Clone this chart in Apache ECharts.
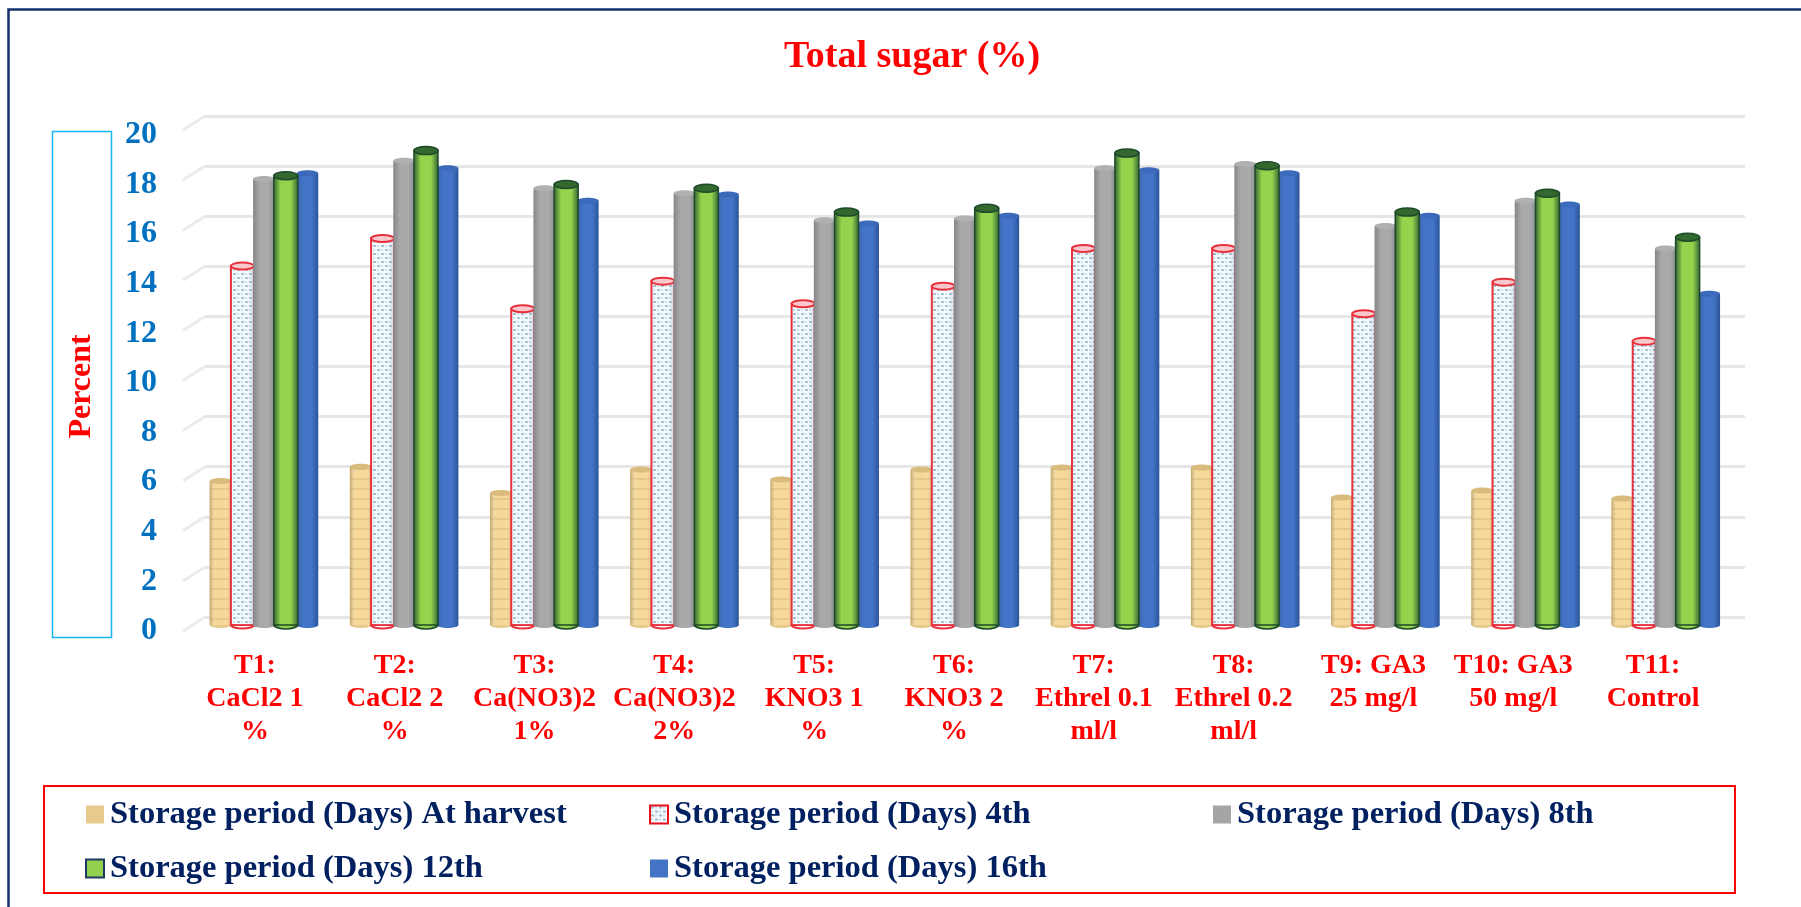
<!DOCTYPE html>
<html>
<head>
<meta charset="utf-8">
<style>html,body{margin:0;padding:0;background:#fff}#c{width:1801px;height:907px}</style>
<script src="https://cdn.jsdelivr.net/npm/echarts@6/dist/echarts.min.js"></script>
</head>
<body>
<div id="c"></div>
<script>
const categories = ["T1:\nCaCl2 1\n%","T2:\nCaCl2 2\n%","T3:\nCa(NO3)2\n1%","T4:\nCa(NO3)2\n2%","T5:\nKNO3 1\n%","T6:\nKNO3 2\n%","T7:\nEthrel 0.1\nml/l","T8:\nEthrel 0.2\nml/l","T9: GA3\n25 mg/l","T10: GA3\n50 mg/l","T11:\nControl"];
const atHarvest = [5.74,6.3,5.26,6.2,5.8,6.2,6.27,6.27,5.08,5.36,5.04];
const day4 = [14.3,15.4,12.6,13.7,12.8,13.5,15.0,15.0,12.4,13.66,11.3];
const day8 = [17.77,18.5,17.4,17.2,16.13,16.2,18.2,18.37,15.9,16.9,15.0];
const day12 = [17.9,18.9,17.55,17.4,16.45,16.6,18.8,18.3,16.45,17.2,15.45];
const day16 = [18.0,18.2,16.9,17.15,16.0,16.3,18.12,18.0,16.3,16.75,13.2];
const yTicks = [0,2,4,6,8,10,12,14,16,18,20];
const names = ["Storage period (Days) At harvest","Storage period (Days) 4th","Storage period (Days) 8th","Storage period (Days) 12th","Storage period (Days) 16th"];

const FONT = '"Liberation Serif", serif';
const G = echarts.graphic;

function mkPattern(w, h, draw){
  const cv = document.createElement('canvas'); cv.width = w; cv.height = h;
  draw(cv.getContext('2d'));
  return {image: cv, repeat: 'repeat'};
}
const tanPat = mkPattern(8, 10, c => {
  c.fillStyle = '#f6d898'; c.fillRect(0,0,8,10);
  c.fillStyle = '#e8c888'; c.fillRect(0,8,8,2);
});
const dotPat = mkPattern(8, 8, c => {
  c.fillStyle = '#f4fafd'; c.fillRect(0,0,8,8);
  c.fillStyle = '#9fbdd2';
  c.fillRect(1,1,3,2); c.fillRect(5,5,3,2);
  c.fillStyle = '#c5deea';
  c.fillRect(5,1,2,2); c.fillRect(1,5,2,2);
});
function hGrad(a,b,c){ return new G.LinearGradient(0,0,1,0,[{offset:0,color:a},{offset:.3,color:b},{offset:.7,color:b},{offset:1,color:c}]); }

const looks = {
  harvest:{slot:0,w:22,pattern:tanPat,shade:hGrad('rgba(150,120,60,.55)','rgba(255,255,255,0)','rgba(190,120,50,.45)'),top:'#d9bb7e',bottom:'#e6c98c',stroke:null,sw:0,ry:3},
  d4:{slot:1,w:23,pattern:dotPat,shade:hGrad('rgba(255,255,255,0)','rgba(255,255,255,.1)','rgba(110,120,140,.3)'),top:'#f8c8cc',bottom:'#ffffff',stroke:'#e8303c',sw:2,ry:3.5},
  d8:{slot:2,w:22,pattern:null,fill:hGrad('#86868a','#a9a9ab','#8b8b8d'),top:'#b0b0b0',stroke:null,sw:0,ry:3},
  d12:{slot:3,w:24,pattern:null,fill:hGrad('#2d5a30','#94d44c','#2f6033'),top:'#33692f',stroke:'#1d4a2a',sw:1.5,ry:4},
  d16:{slot:4,w:21.5,pattern:null,fill:hGrad('#3a66ac','#4474c8','#2a5596'),top:'#3c6abb',stroke:null,sw:0,ry:3}
};

function cylinder(look){
  return function(params, api){
    const c = api.coord([api.value(0), api.value(1)]);
    const base = api.coord([api.value(0), 0]);
    const band = api.size([1,0])[0];
    const cx = c[0] + (look.slot - 2) * 21.7 * (band / 140.2);
    const w = look.w, x = cx - w/2, ty = c[1], by = base[1];
    const kids = [];
    const st = look.stroke ? {stroke:look.stroke, lineWidth:look.sw} : {stroke:null};
    kids.push({type:'ellipse', shape:{cx, cy:by, rx:w/2, ry:look.ry}, style:Object.assign({fill:look.bottom || look.fill}, st)});
    kids.push({type:'rect', shape:{x, y:ty, width:w, height:by-ty}, style:Object.assign({fill:look.pattern || look.fill}, st)});
    if (look.pattern) kids.push({type:'rect', shape:{x, y:ty, width:w, height:by-ty}, style:{fill:look.shade, stroke:null}});
    kids.push({type:'ellipse', shape:{cx, cy:ty, rx:w/2, ry:look.ry}, style:Object.assign({fill:look.top}, st)});
    return {type:'group', children:kids};
  };
}
function rows(a){ return a.map((v,i)=>[i,v]); }
function barSeries(name, data, look, color, border, z){
  return {
    type:'custom', name, xAxisIndex:0, yAxisIndex:0, z,
    renderItem:cylinder(look), data:rows(data),
    encode:{x:0,y:1}, animation:false, silent:true,
    itemStyle:{color, borderColor:border||'transparent', borderWidth:border?2:0}
  };
}
const legendBase = {
  orient:'vertical', selectedMode:false, itemWidth:18, itemHeight:18, itemGap:21, icon:'rect',
  textStyle:{fontFamily:FONT, fontWeight:'bold', fontSize:32.5, lineHeight:33, color:'#002060', padding:[0,0,0,1]}
};
const option = {
  backgroundColor:'#fff', animation:false,
  title:{text:'Total sugar (%)', left:907, top:33, textAlign:'center',
    textStyle:{fontFamily:FONT, fontWeight:'bold', fontSize:38, color:'#ff0000'}},
  legend:[
    Object.assign({}, legendBase, {left:80, top:793, data:[names[0],names[3]]}),
    Object.assign({}, legendBase, {left:644, top:793, data:[names[1],names[4]]}),
    Object.assign({}, legendBase, {left:1208, top:793, data:[names[2]]})
  ],
  grid:[
    {left:194, width:1542, top:123, height:502},
    {left:185, width:1538, top:135, height:496},
    {left:205, width:1540, top:116, height:501}
  ],
  xAxis:[
    {type:'category', gridIndex:0, data:categories, show:false},
    {type:'category', gridIndex:1, data:categories, axisLine:{show:false}, axisTick:{show:false},
      axisLabel:{interval:0, margin:18, hideOverlap:false, fontFamily:FONT, fontWeight:'bold', fontSize:28, lineHeight:33, color:'#ff0000'}},
    {type:'value', gridIndex:2, min:0, max:1, show:false}
  ],
  yAxis:[
    {type:'value', gridIndex:0, min:0, max:20, show:false},
    {type:'value', gridIndex:1, min:0, max:20, interval:2, axisLine:{show:false}, axisTick:{show:false}, splitLine:{show:false},
      axisLabel:{margin:28, fontFamily:FONT, fontWeight:'bold', fontSize:32, color:'#0070c0'},
      name:'Percent', nameLocation:'middle', nameRotate:90, nameGap:87,
      nameTextStyle:{fontFamily:FONT, fontWeight:'bold', fontSize:32, color:'#ff0000', padding:[0,7,0,0]}},
    {type:'value', gridIndex:2, min:0, max:20, interval:2, axisLabel:{show:false}, axisLine:{show:false}, axisTick:{show:false},
      splitLine:{show:true, lineStyle:{color:'#e6e6e6', width:3}}}
  ],
  series:[
    {type:'custom', xAxisIndex:2, yAxisIndex:2, z:1, silent:true, animation:false,
      data:yTicks.map(t=>[0,t]), encode:{x:0,y:1},
      renderItem:function(p,api){
        const c = api.coord([0,api.value(1)]);
        return {type:'line', shape:{x1:c[0], y1:c[1], x2:c[0]-22, y2:c[1]+14}, style:{stroke:'#ebebeb', lineWidth:3}};
      }},
    barSeries(names[0], atHarvest, looks.harvest, '#e8c98e', null, 2),
    barSeries(names[1], day4, looks.d4, dotPat, '#e8101c', 3),
    barSeries(names[2], day8, looks.d8, '#a5a5a5', null, 4),
    barSeries(names[4], day16, looks.d16, '#4472c4', null, 5),
    barSeries(names[3], day12, looks.d12, '#92d050', '#1f3864', 6)
  ],
  graphic:[
    {type:'polyline', silent:true, shape:{points:[[8.5,907],[8.5,9.5],[1801,9.5]]}, style:{fill:null, stroke:'#14306e', lineWidth:2.5}},
    {type:'rect', silent:true, shape:{x:52.5,y:131.5,width:59,height:506}, style:{fill:null, stroke:'#19b5f0', lineWidth:1.5}},
    {type:'rect', silent:true, shape:{x:44,y:786,width:1691,height:107}, style:{fill:null, stroke:'#ff0000', lineWidth:2}}
  ]
};
echarts.init(document.getElementById('c')).setOption(option);
</script>
</body>
</html>
